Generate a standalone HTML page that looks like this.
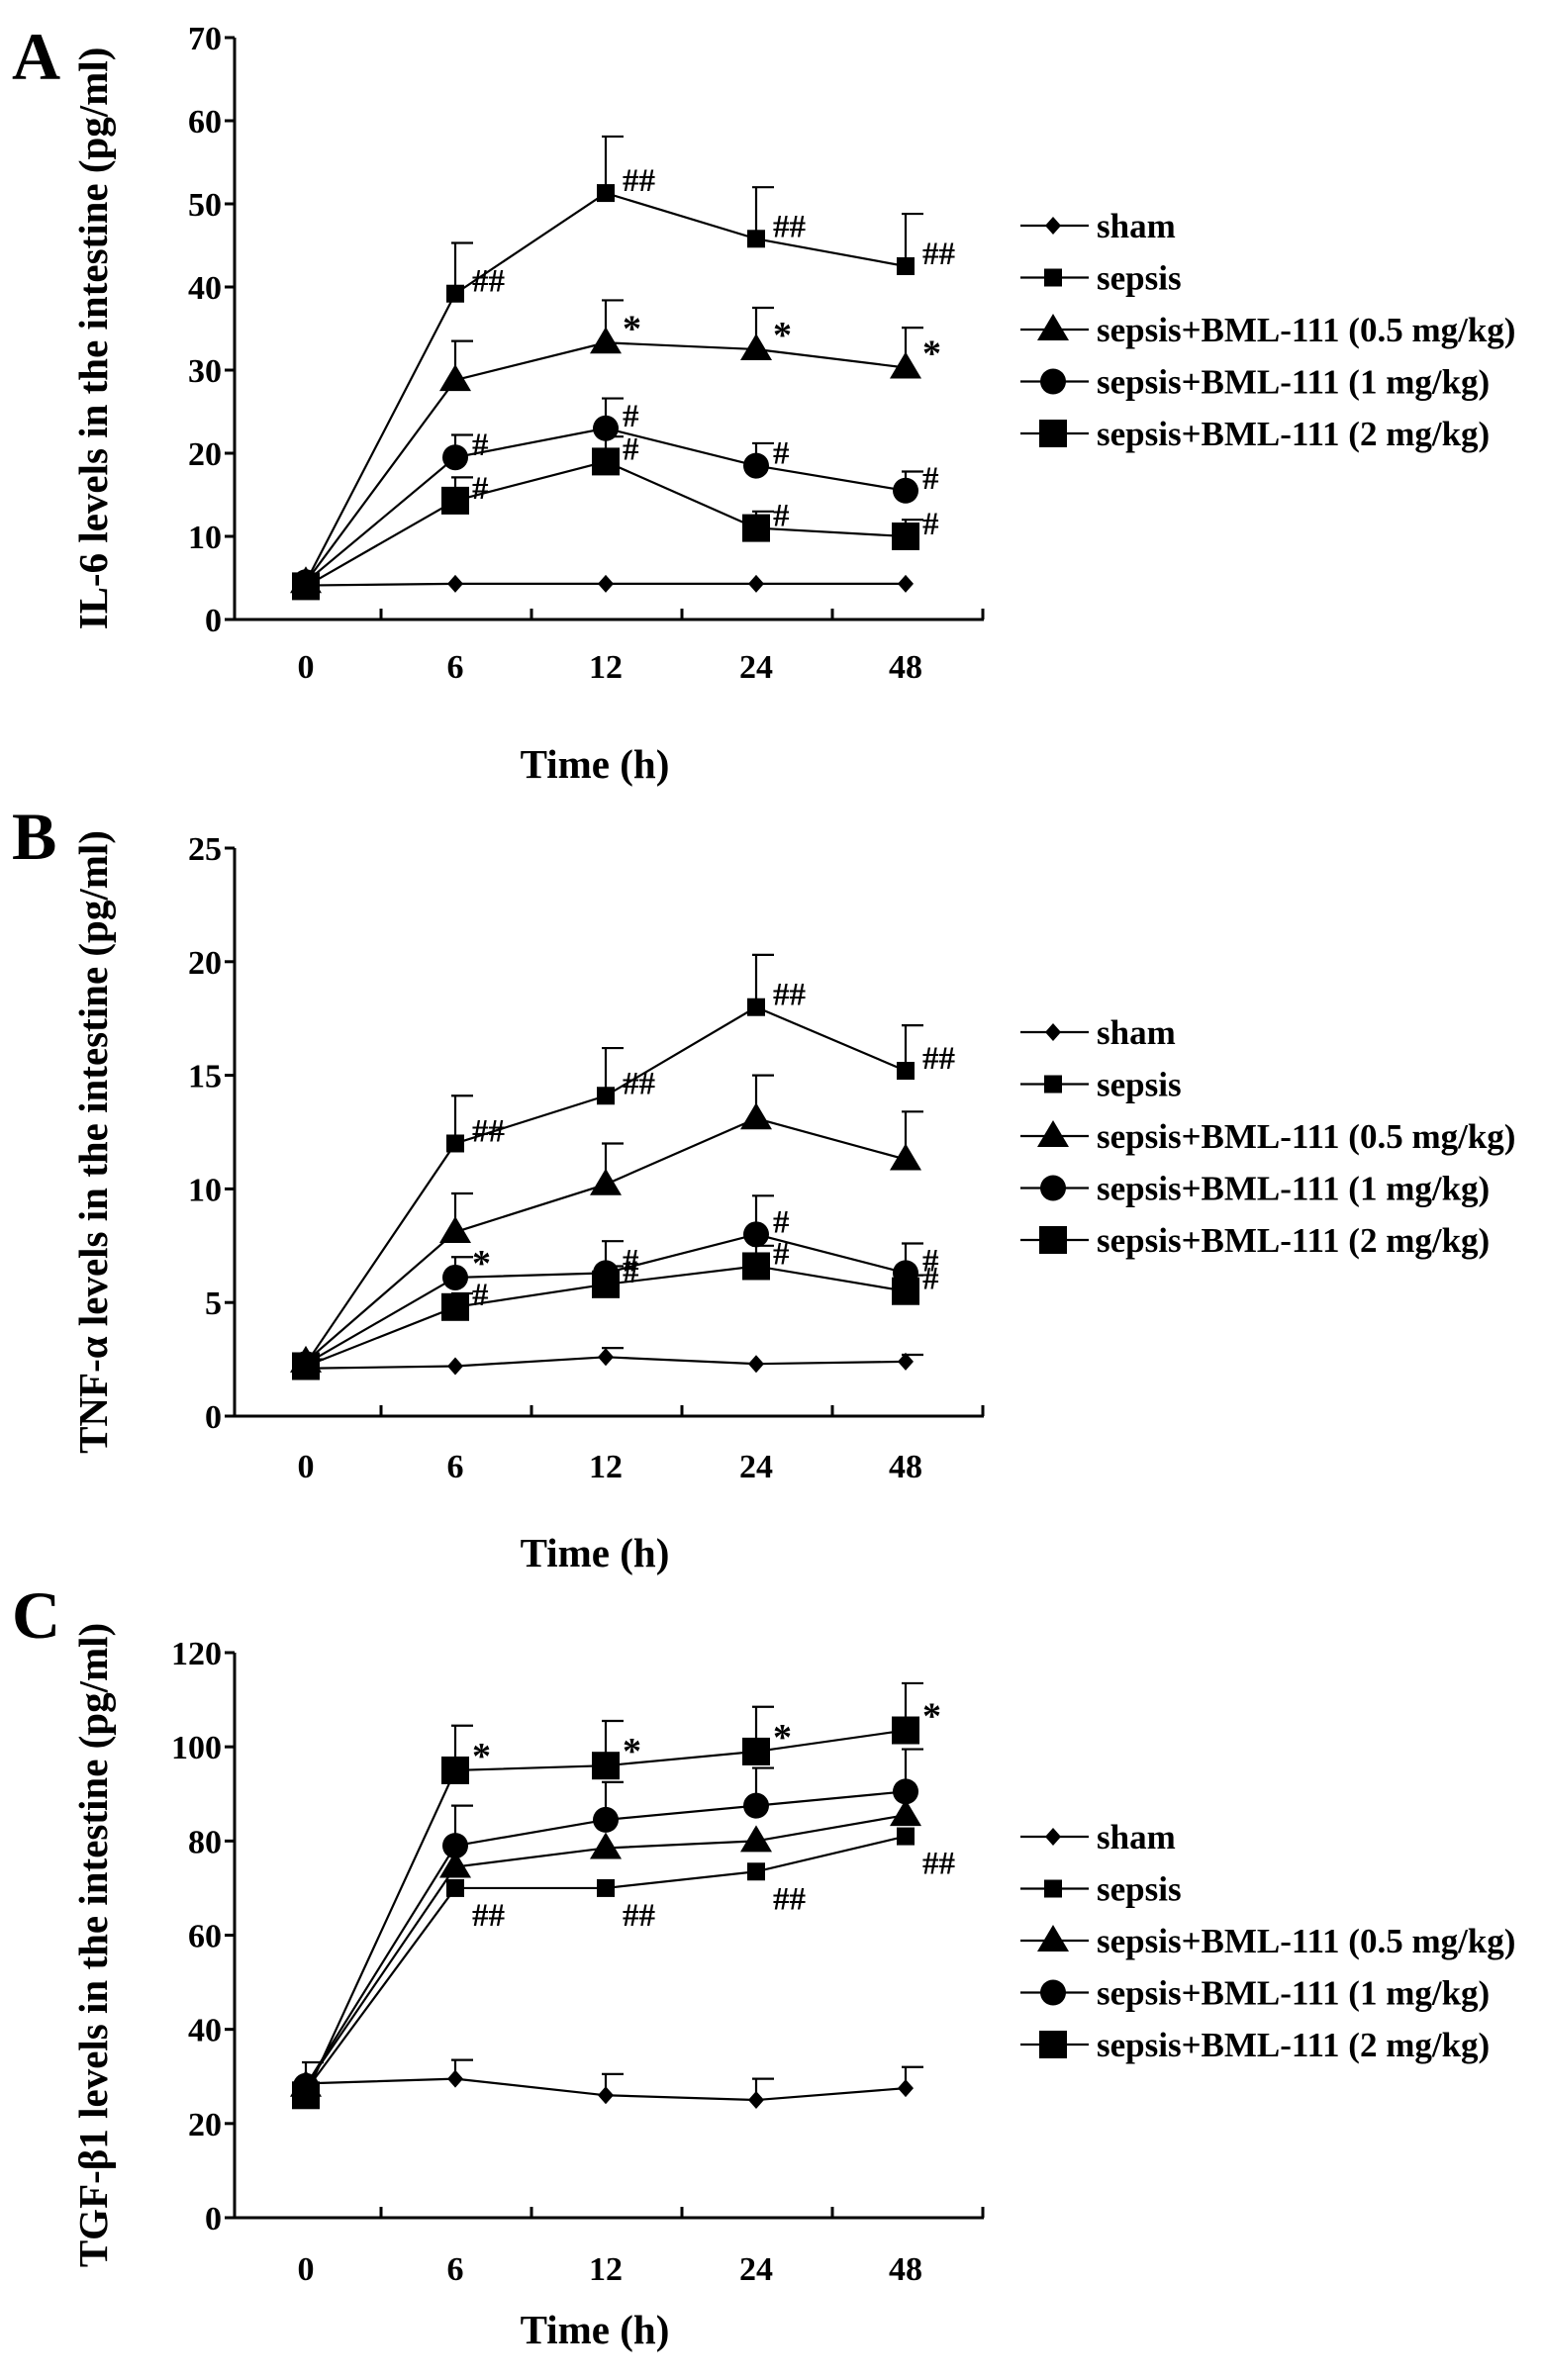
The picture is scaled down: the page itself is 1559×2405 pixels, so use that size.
<!DOCTYPE html>
<html><head><meta charset="utf-8"><style>
html,body{margin:0;padding:0;background:#fff;}
svg{display:block;font-family:"Liberation Serif",serif;font-weight:bold;}
</style></head><body>
<svg id="chart" width="1559" height="2405" viewBox="0 0 1559 2405" xmlns="http://www.w3.org/2000/svg"></svg>
<script>
const categories = ["0","6","12","24","48"];
const seriesNames = ["sham","sepsis","sepsis+BML-111 (0.5 mg/kg)","sepsis+BML-111 (1 mg/kg)","sepsis+BML-111 (2 mg/kg)"];
const markers = ["diamond","smallsquare","triangle","circle","bigsquare"];

// Panel A (IL-6)
const aTicks = [0,10,20,30,40,50,60,70];
const aSham = [4.1,4.3,4.3,4.3,4.3];
const aSepsis = [4.5,39.2,51.3,45.8,42.5];
const aLow = [4.5,28.8,33.3,32.5,30.3];
const aMid = [4.5,19.5,23,18.5,15.5];
const aHigh = [4,14.3,19,11,10];
const aShamErr = [0,0,0,0,0];
const aSepsisErr = [0,6.1,6.8,6.2,6.3];
const aLowErr = [0,4.7,5.1,5,4.8];
const aMidErr = [0,2.7,3.6,2.7,2.3];
const aHighErr = [0,2.8,3,2,2];
const aNotes = [[],["","##","##","##","##"],["","","*","*","*"],["","#","#","#","#"],["","#","#","#","#"]];

// Panel B (TNF-a)
const bTicks = [0,5,10,15,20,25];
const bSham = [2.1,2.2,2.6,2.3,2.4];
const bSepsis = [2.3,12,14.1,18,15.2];
const bLow = [2.4,8.1,10.2,13.1,11.3];
const bMid = [2.3,6.1,6.3,8,6.3];
const bHigh = [2.2,4.8,5.8,6.6,5.5];
const bShamErr = [0.4,0,0.4,0,0.3];
const bSepsisErr = [0,2.1,2.1,2.3,2];
const bLowErr = [0,1.7,1.8,1.9,2.1];
const bMidErr = [0,0.9,1.4,1.7,1.3];
const bHighErr = [0,0.6,0.8,0.9,0.7];
const bNotes = [[],["","##","##","##","##"],["","","","",""],["","*","#","#","#"],["","#","#","#","#"]];

// Panel C (TGF-b1)
const cTicks = [0,20,40,60,80,100,120];
const cSham = [28.5,29.5,26,25,27.5];
const cSepsis = [27,70,70,73.5,81];
const cLow = [28,74.5,78.5,80,85.5];
const cMid = [28,79,84.5,87.5,90.5];
const cHigh = [26,95,96,99,103.5];
const cShamErr = [4.5,4,4.5,4.5,4.5];
const cSepsisErr = [0,0,0,0,0];
const cLowErr = [0,0,0,0,0];
const cMidErr = [0,8.5,8,8,9];
const cHighErr = [0,9.5,9.5,9.5,10];
const cNotes = [[],["","##","##","##","##"],["","","","",""],["","","","",""],["","*","*","*","*"]];

const NS="http://www.w3.org/2000/svg";
const svg=document.getElementById('chart');
function el(tag,attrs,parent){const e=document.createElementNS(NS,tag);for(const k in attrs)e.setAttribute(k,attrs[k]);(parent||svg).appendChild(e);return e;}

const catX=[309,460,612,764,915];
function xPos(i){return catX[i];}

function marker(g,type,x,y){
  let m;
  if(type==="diamond"){m=el('polygon',{points:`${x},${y-9} ${x+8},${y} ${x},${y+9} ${x-8},${y}`,fill:'#000'},g);}
  else if(type==="smallsquare"){m=el('rect',{x:x-9,y:y-9,width:18,height:18,fill:'#000'},g);}
  else if(type==="triangle"){m=el('polygon',{points:`${x},${y-16} ${x+16},${y+11} ${x-16},${y+11}`,fill:'#000'},g);}
  else if(type==="circle"){m=el('circle',{cx:x,cy:y,r:13,fill:'#000'},g);}
  else {m=el('rect',{x:x-14,y:y-14,width:28,height:28,fill:'#000'},g);}
  
  
}

function panel(cfg){
  const g=el('g',{});
  
  
  const max=cfg.ticks[cfg.ticks.length-1];
  const y=v=>cfg.y0-(v/max)*(cfg.y0-cfg.yTop);
  const lt=el('text',{x:12,y:cfg.letterY,'font-size':68},g);lt.textContent=cfg.letter;
  
  
  const ya=el('line',{x1:237,y1:cfg.yTop,x2:237,y2:cfg.y0,stroke:'#000','stroke-width':3},g);
  
  
  const xa=el('line',{x1:236,y1:cfg.y0,x2:994,y2:cfg.y0,stroke:'#000','stroke-width':3},g);
  
  
  cfg.ticks.forEach(t=>{
    el('line',{x1:227,y1:y(t),x2:237,y2:y(t),stroke:'#000','stroke-width':3},g);
    const tx=el('text',{x:224,y:y(t)+12,'font-size':34,'text-anchor':'end'},g);tx.textContent=t;
    
    
  });
  [385,537,689,841,993].forEach(px=>el('line',{x1:px,y1:cfg.y0,x2:px,y2:cfg.y0-11,stroke:'#000','stroke-width':3},g));
  categories.forEach((c,i)=>{
    const tx=el('text',{x:xPos(i),y:cfg.tickY,'font-size':34,'text-anchor':'middle'},g);tx.textContent=c;
    
    
  });
  const xt=el('text',{x:601,y:cfg.xTitleY,'font-size':41,'text-anchor':'middle'},g);xt.textContent='Time (h)';
  
  
  const cy=(cfg.yTop+cfg.y0)/2+10;
  const yt=el('text',{x:0,y:0,'font-size':41,'text-anchor':'middle',transform:`translate(108,${cy}) rotate(-90)`},g);yt.textContent=cfg.yTitle;
  
  
  cfg.series.forEach((s,k)=>{
    const sg=el('g',{},g);
    
    
    const pts=s.map((v,i)=>xPos(i)+','+y(v)).join(' ');
    el('polyline',{points:pts,fill:'none',stroke:'#000','stroke-width':2.2},sg);
    s.forEach((v,i)=>{
      const e=cfg.errs[k][i];
      if(e>0){
        el('line',{x1:xPos(i),y1:y(v),x2:xPos(i),y2:y(v+e),stroke:'#000','stroke-width':2.2},sg);
        el('line',{x1:xPos(i)-4,y1:y(v+e),x2:xPos(i)+18,y2:y(v+e),stroke:'#000','stroke-width':2.2},sg);
      }
      marker(sg,markers[k],xPos(i),y(v));
      const n=cfg.notes[k][i];
      if(n){
        const below=cfg.notesBelow&&cfg.notesBelow[k];
        const a=el('text',{x:xPos(i)+17,y:below?y(v)+38:y(v)-2,'font-size':n==='*'?38:33},sg);a.textContent=n;
        
        
      }
    });
  });
  seriesNames.forEach((nm,k)=>{
    const ly=cfg.legendY+k*52.5;
    const lg=el('g',{},g);
    
    
    el('line',{x1:1031,y1:ly,x2:1100,y2:ly,stroke:'#000','stroke-width':2.2},lg);
    marker(lg,markers[k],1064,ly);
    const t=el('text',{x:1108,y:ly+12,'font-size':35},lg);t.textContent=nm;
  });
}

panel({name:'panel-a-il6',letter:'A',letterY:80,yTop:38,y0:626,ticks:aTicks,tickY:685,xTitleY:786,
  yTitle:'IL-6 levels in the intestine (pg/ml)',
  series:[aSham,aSepsis,aLow,aMid,aHigh],errs:[aShamErr,aSepsisErr,aLowErr,aMidErr,aHighErr],notes:aNotes,legendY:228});
panel({name:'panel-b-tnf',letter:'B',letterY:868,yTop:857,y0:1431,ticks:bTicks,tickY:1493,xTitleY:1583,
  yTitle:'TNF-α levels in the intestine (pg/ml)',
  series:[bSham,bSepsis,bLow,bMid,bHigh],errs:[bShamErr,bSepsisErr,bLowErr,bMidErr,bHighErr],notes:bNotes,legendY:1043});
panel({name:'panel-c-tgf',letter:'C',letterY:1655,yTop:1670,y0:2241,ticks:cTicks,tickY:2304,xTitleY:2368,
  yTitle:'TGF-β1 levels in the intestine (pg/ml)',
  series:[cSham,cSepsis,cLow,cMid,cHigh],errs:[cShamErr,cSepsisErr,cLowErr,cMidErr,cHighErr],notes:cNotes,notesBelow:[false,true,false,false,false],legendY:1856});
</script>
</body></html>
